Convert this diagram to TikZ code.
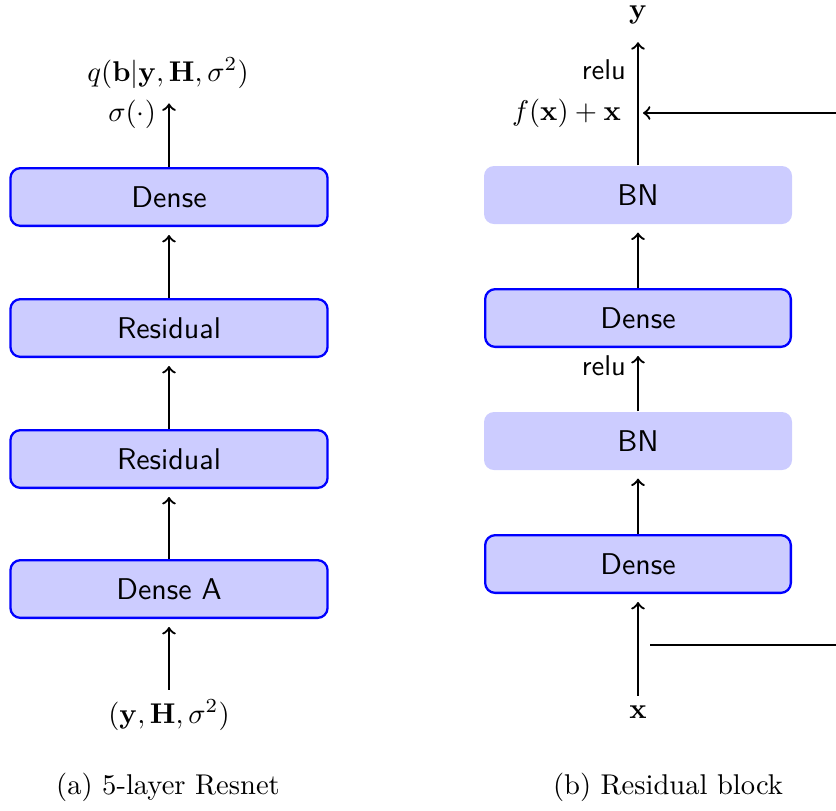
\documentclass[tikz,border=0pt]{standalone}
\usepackage{amsmath}
\begin{document}
\begin{tikzpicture}[x=0.35pt,y=-0.35pt,
  layerbox/.style={draw=blue,thick,fill=blue!20,rounded corners=3.5pt,
    minimum width=111pt,minimum height=20.2pt,font=\fontsize{10.5}{12}\sffamily},
  bnbox/.style={fill=blue!20,rounded corners=3.5pt,
    minimum width=107.8pt,minimum height=20.3pt,font=\fontsize{10.5}{12}\sffamily},
  resbox/.style={layerbox,minimum width=107pt},
  arr/.style={->,thick,shorten >=2.8pt}]
\useasboundingbox (0,0) rectangle (836,810);

% (a) 5-layer Resnet
\node[layerbox] (denseOut) at (169,197) {Dense};
\node[layerbox] (res2) at (169,328) {Residual};
\node[layerbox] (res1) at (169,459) {Residual};
\node[layerbox] (denseA) at (169,589) {Dense A};
\node (inL) at (169,715) {$(\mathbf{y},\mathbf{H},\sigma^2)$};
\node (outL) at (168,73) {$q(\mathbf{b}|\mathbf{y},\mathbf{H},\sigma^2)$};
\node[anchor=east] (sigL) at (166,114) {$\sigma(\cdot)$};

\draw[arr] (inL) -- (denseA);
\draw[arr] (denseA) -- (res1);
\draw[arr] (res1) -- (res2);
\draw[arr] (res2) -- (denseOut);
\draw[arr,shorten >=1.8pt] (denseOut.north) -- (denseOut.north |- outL.south);

\node (capA) at (168,787) {(a) 5-layer Resnet};

% (b) Residual block
\node[bnbox] (bnTop) at (638,195) {BN};
\node[resbox] (dense2) at (638,318) {Dense};
\node[bnbox] (bn1) at (638,441) {BN};
\node[resbox] (dense1) at (638,564) {Dense};
\node (xin) at (638,712) {$\mathbf{x}$};
\node (yout) at (638,15) {$\mathbf{y}$};

\draw[arr] (xin) -- (dense1);
\draw[arr] (dense1) -- (bn1);
\draw[arr] (bn1) -- (dense2);
\draw[arr] (dense2) -- (bnTop);
\draw[arr] (bnTop) -- (yout);

\node[anchor=east,font=\sffamily] (relu1) at (636,366) {relu};
\node[anchor=east,font=\sffamily] (relu2) at (636,70) {relu};
\node[anchor=east] (sumL) at (631,113) {$f(\mathbf{x})+\mathbf{x}$};

% skip connection around the block
\coordinate (skipIn) at (650,645);
\coordinate (skipInEnd) at (836,645);
\coordinate (skipOut) at (836,113);
\coordinate (skipOutEnd) at (643,113);
\draw[thick] (skipIn) -- (skipInEnd);
\draw[->,thick] (skipOut) -- (skipOutEnd);

\node (capB) at (668,787) {(b) Residual block};
\end{tikzpicture}
\end{document}
